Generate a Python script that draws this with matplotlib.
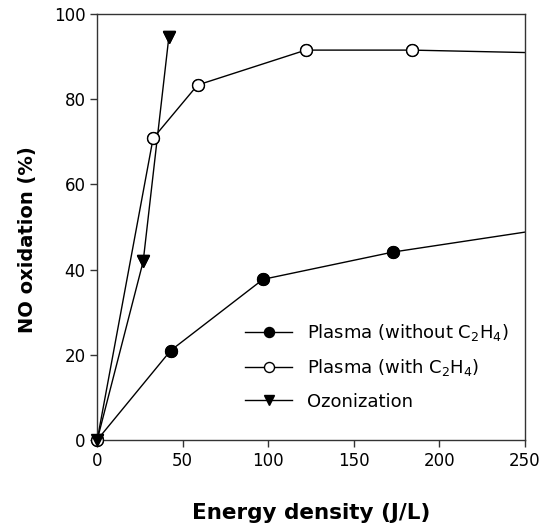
import matplotlib
matplotlib.use("Agg")
import matplotlib.pyplot as plt

# ===============================
# DATA
# ===============================
x_plasma = [0, 43, 97, 173, 300]
y_plasma = [0, 21.0, 37.7, 44.1, 51.8]

x_plasma_c2h4 = [0, 32.7, 58.7, 122, 184, 300]
y_plasma_c2h4 = [0, 70.8, 83.3, 91.5, 91.5, 90.5]

x_ozone = [0, 26.9, 41.9]
y_ozone = [0, 41.9, 94.5]

x_ticks = [0, 50, 100, 150, 200, 250]
y_ticks = [0, 20, 40, 60, 80, 100]

X_MAX = 250
Y_MAX = 100

# ===============================
# PLOT
# ===============================
plt.rcParams['font.family'] = ['DejaVu Sans']

fig = plt.figure(figsize=(5.43, 5.28), dpi=100)
ax = fig.add_axes([0.179, 0.1667, 0.787, 0.807])

ms = 8.5


def draw(x, y, marker, face, label):
    # line clipped to the axes, markers inside the range drawn unclipped
    ax.plot(x, y, color='black', lw=1, marker=marker, ms=ms,
            mfc=face, mec='black', mew=1, label=label)
    xs = [a for a in x if a <= X_MAX]
    ys = [b for a, b in zip(x, y) if a <= X_MAX]
    ax.plot(xs, ys, ls='none', marker=marker, ms=ms, mfc=face,
            mec='black', mew=1, clip_on=False, zorder=3)


draw(x_plasma, y_plasma, 'o', 'black', 'Plasma (without C$_2$H$_4$)')
draw(x_plasma_c2h4, y_plasma_c2h4, 'o', 'white', 'Plasma (with C$_2$H$_4$)')
draw(x_ozone, y_ozone, 'v', 'black', 'Ozonization')

ax.set_xlim(0, X_MAX)
ax.set_ylim(0, Y_MAX)
ax.set_xticks(x_ticks)
ax.set_yticks(y_ticks)
ax.tick_params(direction='out', length=5, width=1, labelsize=12, colors='#333333',
               labelcolor='black', top=False, right=False)

for sp in ax.spines.values():
    sp.set_color('#333333')
    sp.set_linewidth(1)

ax.set_xlabel('Energy density (J/L)', fontsize=15.5, fontweight='bold')
ax.set_ylabel('NO oxidation (%)', fontsize=14, fontweight='bold')
ax.xaxis.set_label_coords(0.5, -0.148)
ax.yaxis.set_label_coords(-0.14, 0.47)

ax.legend(loc='upper left', bbox_to_anchor=(0.33, 0.293), frameon=False,
          fontsize=13, handlelength=2.6, handletextpad=0.8, labelspacing=0.78,
          borderaxespad=0, markerscale=0.85)

fig.savefig("out.png", dpi=100)
